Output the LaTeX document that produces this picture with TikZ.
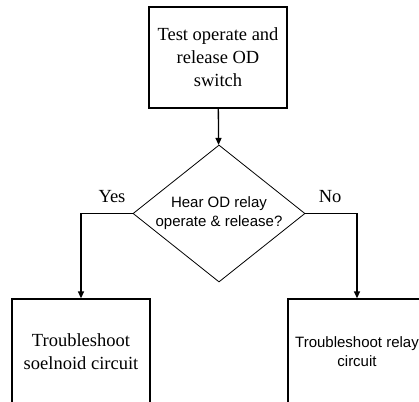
\documentclass[tikz,border=0pt]{standalone}
\usepackage{fontspec}
\setmainfont{Liberation Serif}
\newfontfamily\arialfont{Liberation Sans}
\usetikzlibrary{shapes.geometric, arrows.meta}

\begin{document}
\begin{tikzpicture}[x=1pt, y=-1pt,
    box/.style={draw, line width=1.3pt, minimum width=138pt, minimum height=101pt, align=center, inner sep=0pt},
    serif/.style={font=\fontsize{18.5}{23}\selectfont},
    sans/.style={font=\arialfont\fontsize{15}{19}\selectfont},
    flow/.style={line width=1.3pt, -{Triangle[length=7pt, width=6pt]}}]
    % \draw[help lines](0,0) grid (419,401);

    \useasboundingbox (0,0) rectangle (419,401);
    \clip (0,0) rectangle (419,401);

    % test step
    \node[box, serif] (test) at (218,57.5) {Test operate and\\release OD\\switch};

    % decision
    \node[diamond, draw, line width=0.8pt, minimum width=172pt, minimum height=137pt, shape aspect=1.25, inner sep=-3pt, align=center, sans] (hear) at (219,213.5) {Hear OD relay\\operate \& release?};

    % outcome nodes (bottom edges run off the page)
    \node[box, serif, minimum height=106pt] (sol) at (81,352) {Troubleshoot\\soelnoid circuit};
    \node[box, sans, minimum height=106pt] (relay) at (357,352) {Troubleshoot relay\\circuit};

    % connectors
    \draw[flow] (test) -- (hear);
    \draw[flow] (hear.west) -| (sol.north) node[pos=0.2, above=7pt, serif] (yes) {Yes};
    \draw[flow] (hear.east) -| (relay.north) node[pos=0.24, above=7pt, serif] (no) {No};

\end{tikzpicture}
\end{document}
